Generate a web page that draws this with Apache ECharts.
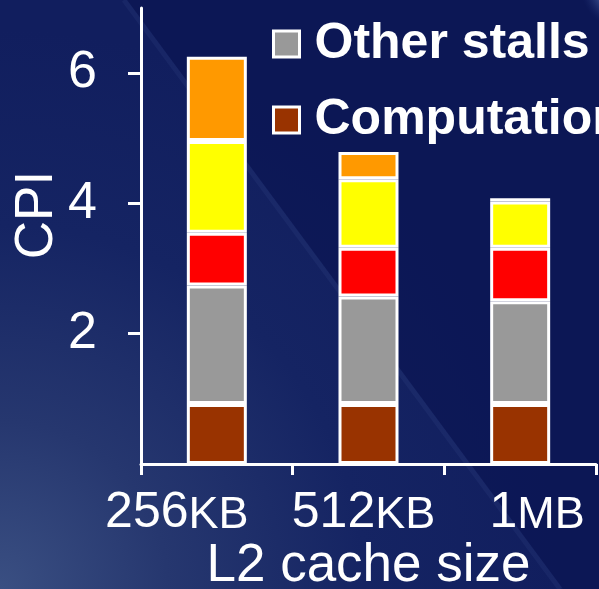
<!DOCTYPE html>
<html>
<head>
<meta charset="utf-8">
<script src="https://cdn.jsdelivr.net/npm/echarts@6/dist/echarts.min.js"></script>
<style>
  html, body { margin: 0; padding: 0; background: #0d1a58; }
  #chart { width: 599px; height: 589px; }
</style>
</head>
<body>
<div id="chart"></div>
<script>
// CPI breakdown per L2 cache size (stacked, bottom to top)
const categories   = ['256KB', '512KB', '1MB'];
const computation  = [0.92, 0.92, 0.92];
const otherStalls  = [1.82, 1.65, 1.58];
const redStalls    = [0.81, 0.75, 0.82];
const yellowStalls = [1.41, 1.05, 0.71];
const orangeStalls = [1.29, 0.42, 0.05];
const yTickValues  = [2, 4, 6];

const chart = echarts.init(document.getElementById('chart'), null, { renderer: 'canvas' });

const FONT = '"Liberation Sans", Arial, Helvetica, sans-serif';
const W = 599, H = 589;

// per-label horizontal nudges for the category labels (rich padding)
const labelRich = {
  n0: { fontSize: 50, fontFamily: FONT, color: '#fff', lineHeight: 50, verticalAlign: 'bottom' },
  u0: { fontSize: 45, fontFamily: FONT, color: '#fff', lineHeight: 45, verticalAlign: 'bottom', padding: [0, 80, 0, 0] },
  n1: { fontSize: 50, fontFamily: FONT, color: '#fff', lineHeight: 50, verticalAlign: 'bottom' },
  u1: { fontSize: 45, fontFamily: FONT, color: '#fff', lineHeight: 45, verticalAlign: 'bottom', padding: [0, 10, 0, 0] },
  n2: { fontSize: 50, fontFamily: FONT, color: '#fff', lineHeight: 50, verticalAlign: 'bottom', padding: [0, 0, 0, 34] },
  u2: { fontSize: 45, fontFamily: FONT, color: '#fff', lineHeight: 45, verticalAlign: 'bottom' }
};

function seg(name, color, data) {
  return {
    name: name,
    type: 'bar',
    stack: 'cpi',
    barWidth: 60,
    data: data,
    itemStyle: { color: color, borderColor: '#ffffff', borderWidth: 3 },
    emphasis: { disabled: true },
    animation: false
  };
}

const option = {
  animation: false,
  backgroundColor: 'transparent',
  graphic: [
    {
      type: 'rect', z: -100, silent: true,
      shape: { x: 0, y: 0, width: W, height: H },
      style: {
        fill: {
          type: 'radial', x: 0, y: 1, r: 0.95,
          colorStops: [
            { offset: 0, color: '#3a4f82' },
            { offset: 0.3, color: '#26376f' },
            { offset: 0.65, color: '#152463' },
            { offset: 1, color: '#111e5e' }
          ]
        }
      }
    },
    {
      // darker panel beyond the diagonal sheen
      type: 'polygon', z: -99, silent: true,
      shape: { points: [[127, 0], [W, 0], [W, H], [563, H]] },
      style: { fill: 'rgba(4,12,72,0.4)' }
    },
    {
      // faint light streak along the diagonal
      type: 'line', z: -98, silent: true,
      shape: { x1: 124, y1: 0, x2: 560, y2: H },
      style: { stroke: 'rgba(120,140,200,0.08)', lineWidth: 5 }
    },
    {
      // corner glow top-right
      type: 'circle', z: -97, silent: true,
      shape: { cx: 625, cy: -15, r: 45 },
      style: {
        fill: {
          type: 'radial', x: 0.5, y: 0.5, r: 0.5,
          colorStops: [
            { offset: 0, color: 'rgba(200,215,245,0.9)' },
            { offset: 0.6, color: 'rgba(120,150,210,0.45)' },
            { offset: 1, color: 'rgba(40,60,130,0)' }
          ]
        }
      }
    }
  ],
  grid: { left: 141, right: 3, top: 8, bottom: 125, containLabel: false, outerBoundsMode: 'none' },
  legend: {
    show: true,
    orient: 'vertical',
    left: 272,
    top: 19,
    padding: 0,
    itemWidth: 26,
    itemHeight: 26,
    itemGap: 26,
    icon: 'rect',
    selectedMode: false,
    data: ['Other stalls', 'Computation'],
    itemStyle: { borderColor: '#ffffff', borderWidth: 3 },
    textStyle: {
      color: '#ffffff', fontSize: 50, fontWeight: 'bold', fontFamily: FONT,
      lineHeight: 50, padding: [0, 0, 0, 10]
    }
  },
  xAxis: {
    type: 'category',
    data: categories,
    name: 'L2 cache size',
    nameLocation: 'middle',
    nameGap: 74,
    nameMoveOverlap: false,
    nameTextStyle: { color: '#fff', fontSize: 53, fontFamily: FONT, verticalAlign: 'top', lineHeight: 56 },
    axisLine: { show: true, lineStyle: { color: '#fff', width: 3 } },
    axisTick: { show: true, length: 11, lineStyle: { color: '#fff', width: 3 } },
    axisLabel: {
      margin: 24,
      interval: 0,
      formatter: function (value, index) {
        const m = value.match(/^(\d+)(\D+)$/);
        return '{n' + index + '|' + m[1] + '}{u' + index + '|' + m[2] + '}';
      },
      rich: labelRich
    },
    splitLine: { show: false }
  },
  yAxis: {
    type: 'value',
    min: 0,
    max: 7,
    interval: 1,
    name: 'CPI',
    nameLocation: 'middle',
    nameRotate: 90,
    nameGap: 84,
    nameMoveOverlap: false,
    nameTextStyle: { color: '#fff', fontSize: 53, lineHeight: 40, fontFamily: FONT, padding: [0, 0, 0, 42] },
    axisLine: { show: true, lineStyle: { color: '#fff', width: 3 } },
    axisTick: { show: true, length: 13, customValues: yTickValues, lineStyle: { color: '#fff', width: 3 } },
    axisLabel: {
      margin: 44,
      customValues: yTickValues,
      color: '#fff', fontSize: 52, fontFamily: FONT
    },
    splitLine: { show: false }
  },
  series: [
    seg('Computation', '#993300', computation),
    seg('Other stalls', '#999999', otherStalls),
    seg('Red stalls', '#ff0000', redStalls),
    seg('Yellow stalls', '#ffff00', yellowStalls),
    seg('Orange stalls', '#ff9900', orangeStalls)
  ]
};

chart.setOption(option);
</script>
</body>
</html>
